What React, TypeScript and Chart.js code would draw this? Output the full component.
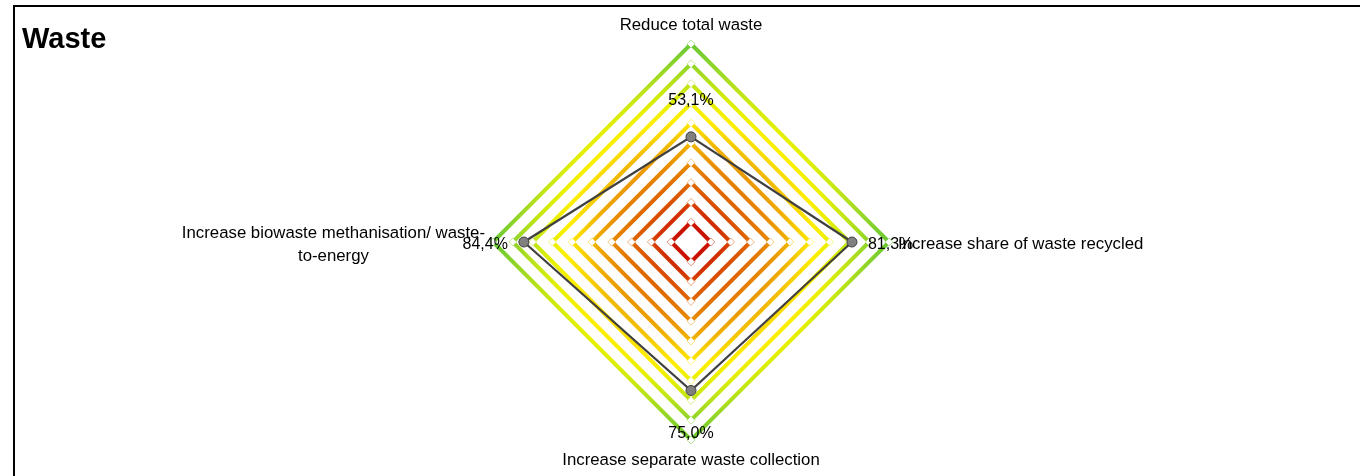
import React, { useEffect, useRef } from 'react';
import { Chart, registerables } from 'chart.js';

Chart.register(...registerables);

// ---- data ----
const axisLabels: string[][] = [
  ['Reduce total waste'],
  ['Increase share of waste recycled'],
  ['Increase separate waste collection'],
  ['Increase biowaste methanisation/ waste-', 'to-energy'],
];
const seriesValues: number[] = [53.1, 81.3, 75.0, 84.4];
const valueLabels: string[] = ['53,1%', '81,3%', '75,0%', '84,4%'];
const ringLevels: number[] = [10, 20, 30, 40, 50, 60, 70, 80, 90, 100];
const titleText = 'Waste';

// ---- style ----
const FONT = '"Liberation Sans", Arial, sans-serif';
const gradientStops: [number, string][] = [
  [0, '#c00000'],
  [0.1, '#cc1800'],
  [0.2, '#d84800'],
  [0.3, '#e06c00'],
  [0.4, '#e98e00'],
  [0.48, '#f0b000'],
  [0.55, '#f8d400'],
  [0.62, '#ffee00'],
  [0.7, '#e8f000'],
  [0.78, '#c4e614'],
  [0.88, '#96d628'],
  [1, '#66c833'],
];

function makeGradient(chart: any, alpha = 1): any {
  const s = chart.scales && chart.scales.r;
  if (!s || !s.drawingArea) return '#e8a000';
  const g = chart.ctx.createRadialGradient(s.xCenter, s.yCenter, 0, s.xCenter, s.yCenter, s.drawingArea);
  gradientStops.forEach(([p, c]) => {
    if (alpha >= 1) {
      g.addColorStop(p, c);
    } else {
      const r = parseInt(c.slice(1, 3), 16);
      const gg = parseInt(c.slice(3, 5), 16);
      const b = parseInt(c.slice(5, 7), 16);
      g.addColorStop(p, `rgba(${r},${gg},${b},${alpha})`);
    }
  });
  return g;
}

const labelPlugin = {
  id: 'customLabels',
  afterDraw(chart: any) {
    const s = chart.scales.r;
    const ctx = chart.ctx as CanvasRenderingContext2D;
    const cx = s.xCenter;
    const cy = s.yCenter;
    const R = s.drawingArea;
    ctx.save();
    ctx.fillStyle = '#000';

    // title
    ctx.font = `bold 29px ${FONT}`;
    ctx.textAlign = 'left';
    ctx.textBaseline = 'alphabetic';
    ctx.fillText(titleText, 22, 48);

    // axis labels
    ctx.font = `16.8px ${FONT}`;
    const lh = 23;
    axisLabels.forEach((lines, i) => {
      const p = s.getPointPosition(i, R);
      const dx = p.x - cx;
      const dy = p.y - cy;
      const n = lines.length;
      if (Math.abs(dy) >= Math.abs(dx)) {
        ctx.textAlign = 'center';
        lines.forEach((ln, k) => {
          const y = dy < 0 ? p.y - 14 - (n - 1 - k) * lh : p.y + 25 + k * lh;
          ctx.fillText(ln, p.x, y);
        });
      } else if (dx > 0) {
        ctx.textAlign = 'left';
        lines.forEach((ln, k) => {
          ctx.fillText(ln, p.x + 9, p.y + 7 - ((n - 1) * lh) / 2 + k * lh);
        });
      } else {
        const w = Math.max(...lines.map((ln) => ctx.measureText(ln).width));
        const right = p.x - 8;
        ctx.textAlign = 'center';
        lines.forEach((ln, k) => {
          ctx.fillText(ln, right - w / 2, p.y + 7 - ((n - 1) * lh) / 2 + k * lh);
        });
      }
    });

    // value labels
    ctx.font = `16px ${FONT}`;
    seriesValues.forEach((v, i) => {
      const p = s.getPointPosition(i, s.getDistanceFromCenterForValue(v));
      const dx = p.x - cx;
      const dy = p.y - cy;
      if (Math.abs(dy) >= Math.abs(dx)) {
        ctx.textAlign = 'center';
        ctx.fillText(valueLabels[i], p.x, dy < 0 ? p.y - 32 : p.y + 47);
      } else if (dx > 0) {
        ctx.textAlign = 'left';
        ctx.fillText(valueLabels[i], p.x + 16, p.y + 7);
      } else {
        ctx.textAlign = 'right';
        ctx.fillText(valueLabels[i], p.x - 16, p.y + 7);
      }
    });
    ctx.restore();
  },
};

export default function App() {
  const ref = useRef<HTMLCanvasElement | null>(null);

  useEffect(() => {
    if (!ref.current) return;
    const ringDatasets = ringLevels.map((lvl) => ({
      label: `ring ${lvl}`,
      data: axisLabels.map(() => lvl),
      order: 1,
      fill: false,
      borderWidth: 4,
      borderJoinStyle: 'miter' as const,
      borderColor: (c: any) => makeGradient(c.chart),
      pointStyle: 'rectRot' as const,
      pointRadius: 4,
      pointHoverRadius: 4,
      pointBackgroundColor: '#ffffff',
      pointBorderWidth: 1,
      pointBorderColor: (c: any) => makeGradient(c.chart, 0.5),
      tension: 0,
    }));
    const chart = new Chart(ref.current, {
      type: 'radar',
      data: {
        labels: axisLabels.map((l) => l.join(' ')),
        datasets: [
          {
            label: 'Waste',
            data: seriesValues,
            order: 0,
            fill: false,
            borderColor: '#404040',
            borderWidth: 2.25,
            pointStyle: 'circle',
            pointRadius: 5,
            pointBackgroundColor: '#808080',
            pointBorderColor: '#404040',
            pointBorderWidth: 1,
            tension: 0,
          } as any,
          ...(ringDatasets as any[]),
        ],
      },
      options: {
        responsive: false,
        maintainAspectRatio: false,
        animation: false,
        layout: { padding: { left: 22, right: 0, top: 44, bottom: 36 } },
        plugins: {
          legend: { display: false },
          tooltip: { enabled: false },
          title: { display: false },
        },
        scales: {
          r: {
            min: 0,
            max: 100,
            ticks: { display: false, stepSize: 10 },
            grid: { display: false },
            angleLines: { display: false },
            pointLabels: { display: false },
          },
        },
      },
      plugins: [labelPlugin],
    });
    return () => chart.destroy();
  }, []);

  return (
    <div
      style={{
        position: 'absolute',
        left: 0,
        top: 0,
        width: 1360,
        height: 476,
        overflow: 'hidden',
        background: '#fff',
      }}
    >
      <div
        style={{
          position: 'absolute',
          left: 13,
          top: 5,
          width: 3000,
          height: 3000,
          borderLeft: '2px solid #000',
          borderTop: '2px solid #000',
        }}
      />
      <canvas
        ref={ref}
        width={1360}
        height={476}
        style={{ position: 'absolute', left: 0, top: 0, width: 1360, height: 476 }}
      />
    </div>
  );
}
